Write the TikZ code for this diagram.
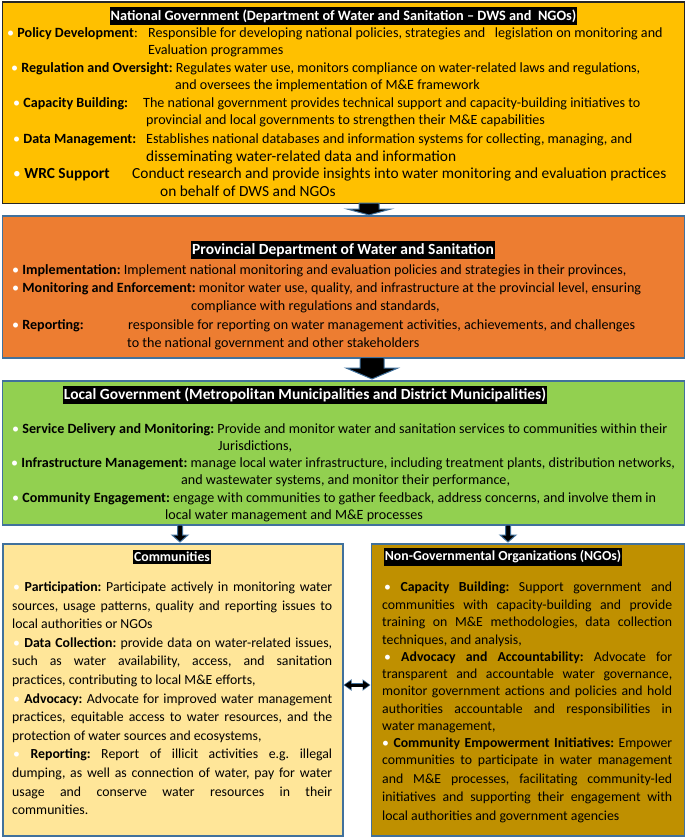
\documentclass[tikz,border=0pt]{standalone}
\usepackage{fontspec}
\setmainfont{Carlito}
\usetikzlibrary{calc,arrows.meta}
\definecolor{natc}{HTML}{FFC000}
\definecolor{provc}{HTML}{ED7D31}
\definecolor{locc}{HTML}{92D050}
\definecolor{commc}{HTML}{FFE699}
\definecolor{ngoc}{HTML}{BF9000}
\definecolor{edgec}{HTML}{41719C}
\frenchspacing
\newcommand\wbul{\textcolor{white}{\textbullet}}
\newcommand\jl[2]{\makebox[#1][s]{#2}}
\tikzset{
  box/.style={draw=edgec, line width=1.5pt, anchor=north west, inner sep=0pt},
  ttl/.style={fill=black, text=white, font=\bfseries\fontsize{13.8}{15}\selectfont, inner xsep=1pt, inner ysep=2.5pt, anchor=center},
  ttlbig/.style={ttl, font=\bfseries\fontsize{15.5}{17}\selectfont},
  ttlmid/.style={ttl, font=\bfseries\fontsize{14.3}{16}\selectfont},
  ln/.style={anchor=base west, inner sep=0pt, font=\fontsize{14.1}{16}\selectfont},
  lnbig/.style={anchor=base west, inner sep=0pt, font=\fontsize{15.4}{17}\selectfont},
  lnb/.style={anchor=base west, inner sep=0pt, font=\fontsize{13.8}{16}\selectfont},
  blk/.style={fill=black, draw=edgec, line width=1pt, line join=miter},
}
\begin{document}
\begin{tikzpicture}[x=1pt,y=-1pt]
\useasboundingbox (0,0) rectangle (685,837);
% ---------- boxes
\node[box, draw=black!85, fill=natc, minimum width=682pt, minimum height=201pt] (nat) at (1.5,1.5) {};
\node[box, fill=provc, minimum width=682pt, minimum height=142pt] (prov) at (1.5,215) {};
\node[box, fill=locc, minimum width=682pt, minimum height=144pt] (loc) at (1.5,380) {};
\node[box, fill=commc, minimum width=340pt, minimum height=292pt] (comm) at (2,543) {};
\node[box, fill=ngoc, minimum width=313pt, minimum height=292pt] (ngo) at (370.5,543) {};

% ---------- block arrows
\coordinate (a1s) at (369,203);
\coordinate (a1e) at (369,215);
\filldraw[blk] ($(a1s)+(-10,0)$) -- ($(a1s)+(10,0)$) -- ($(a1e)+(10,-6)$) -- ($(a1e)+(22,-6)$) -- (a1e) -- ($(a1e)+(-22,-6)$) -- ($(a1e)+(-10,-6)$) -- cycle;
\coordinate (a2s) at (372,357.5);
\coordinate (a2e) at (372,379);
\filldraw[blk] ($(a2s)+(-12,0)$) -- ($(a2s)+(12,0)$) -- ($(a2e)+(12,-11)$) -- ($(a2e)+(26,-11)$) -- (a2e) -- ($(a2e)+(-26,-11)$) -- ($(a2e)+(-12,-11)$) -- cycle;
\coordinate (a3s) at (180,525);
\coordinate (a3e) at (180,542);
\filldraw[blk] ($(a3s)+(-2.5,0)$) -- ($(a3s)+(2.5,0)$) -- ($(a3e)+(2.5,-7)$) -- ($(a3e)+(8,-7)$) -- (a3e) -- ($(a3e)+(-8,-7)$) -- ($(a3e)+(-2.5,-7)$) -- cycle;
\coordinate (a4s) at (508,525);
\coordinate (a4e) at (508,542);
\filldraw[blk] ($(a4s)+(-2.5,0)$) -- ($(a4s)+(2.5,0)$) -- ($(a4e)+(2.5,-7)$) -- ($(a4e)+(8,-7)$) -- (a4e) -- ($(a4e)+(-8,-7)$) -- ($(a4e)+(-2.5,-7)$) -- cycle;
% double arrow
\coordinate (dy) at (0,685);
\draw[edgec, line width=4.6pt, {Triangle[width=11pt,length=8pt]}-{Triangle[width=11pt,length=8pt]}] (comm.east |- dy) -- (ngo.west |- dy);
\draw[black, line width=3pt, {Triangle[width=8pt,length=6.5pt]}-{Triangle[width=8pt,length=6.5pt]}] ($(comm.east |- dy)+(1,0)$) -- ($(ngo.west |- dy)+(-1,0)$);

% ---------- National
\node[ttlmid] (t1) at (343.5,16) {National Government (Department of Water and Sanitation – DWS and \ NGOs)};
\node[ln] (n1l) at (7,37.5) {\wbul\ \textbf{Policy Development}:};
\node[ln] (n1b) at (148,37.5) {Responsible for developing national policies, strategies and \ \ legislation on monitoring and};
\node[ln] (n1c) at (148,54.5) {Evaluation programmes};
\node[ln] (n2l) at (11,72.5) {\wbul\ \textbf{Regulation and Oversight:} Regulates water use, monitors compliance on water-related laws and regulations,};
\node[ln] (n2c) at (175,90) {and oversees the implementation of M\&E framework};
\node[ln] (n3l) at (13,107.5) {\wbul\ \textbf{Capacity Building:}};
\node[ln] (n3b) at (143,107.5) {The national government provides technical support and capacity-building initiatives to};
\node[ln] (n3c) at (146,124.5) {provincial and local governments to strengthen their M\&E capabilities};
\node[ln] (n4l) at (13,143.5) {\wbul\ \textbf{Data Management:}};
\node[ln] (n4b) at (146,143.5) {Establishes national databases and information systems for collecting, managing, and};
\node[lnbig] (n4c) at (146,161) {disseminating water-related data and information};
\node[lnbig] (n5l) at (13,178.5) {\wbul\ \textbf{WRC Support}};
\node[lnbig] (n5b) at (132,178.5) {Conduct research and provide insights into water monitoring and evaluation practices};
\node[lnbig] (n5c) at (160,196.5) {on behalf of DWS and NGOs};

% ---------- Provincial
\node[ttlbig] (t2) at (343,250) {Provincial Department of Water and Sanitation};
\node[ln] (p1) at (12,274) {\wbul\ \textbf{Implementation:} Implement national monitoring and evaluation policies and strategies in their provinces,};
\node[ln] (p2) at (12,292) {\wbul\ \textbf{Monitoring and Enforcement:} monitor water use, quality, and infrastructure at the provincial level, ensuring};
\node[ln] (p2c) at (191,310.5) {compliance with regulations and standards,};
\node[ln] (p3l) at (12,329) {\wbul\ \textbf{Reporting:}};
\node[ln] (p3b) at (128,329) {responsible for reporting on water management activities, achievements, and challenges};
\node[ln] (p3c) at (127,347.5) {to the national government and other stakeholders};

% ---------- Local
\node[ttlbig] (t3) at (305,395) {Local Government (Metropolitan Municipalities and District Municipalities)};
\node[ln] (l1) at (12,433) {\wbul\ \textbf{Service Delivery and Monitoring:} Provide and monitor water and sanitation services to communities within their};
\node[ln] (l1c) at (218,450) {Jurisdictions,};
\node[ln] (l2) at (11,467) {\wbul\ \textbf{Infrastructure Management:} manage local water infrastructure, including treatment plants, distribution networks,};
\node[ln] (l2c) at (181,484) {and wastewater systems, and monitor their performance,};
\node[ln] (l3) at (12,502) {\wbul\ \textbf{Community Engagement:} engage with communities to gather feedback, address concerns, and involve them in};
\node[ln] (l3c) at (165,519) {local water management and M\&E processes};

% ---------- Communities
\node[ttl] (t4) at (172,557) {Communities};
\node[lnb] (c1) at (13,591.5) {\jl{319pt}{\wbul\ \textbf{Participation:} Participate actively in monitoring water}};
\node[lnb] (c2) at (12,610.1) {\jl{320pt}{sources, usage patterns, quality and reporting issues to}};
\node[lnb] (c3) at (12,628.7) {local authorities or NGOs};
\node[lnb] (c4) at (13,647.2) {\jl{319pt}{\wbul\ \textbf{Data Collection:} provide data on water-related issues,}};
\node[lnb] (c5) at (12,665.8) {\jl{320pt}{such as water availability, access, and sanitation}};
\node[lnb] (c6) at (12,684.4) {practices, contributing to local M\&E efforts,};
\node[lnb] (c7) at (13,703) {\jl{319pt}{\wbul\ \textbf{Advocacy:} Advocate for improved water management}};
\node[lnb] (c8) at (12,721.6) {\jl{320pt}{practices, equitable access to water resources, and the}};
\node[lnb] (c9) at (12,740.2) {protection of water sources and ecosystems,};
\node[lnb] (c10) at (13,758.8) {\jl{319pt}{\wbul\ \textbf{Reporting:} Report of illicit activities e.g. illegal}};
\node[lnb] (c11) at (12,777.4) {\jl{320pt}{dumping, as well as connection of water, pay for water}};
\node[lnb] (c12) at (12,796) {\jl{320pt}{usage and conserve water resources in their}};
\node[lnb] (c13) at (12,814.5) {communities.};

% ---------- NGOs
\node[ttl] (t5) at (503,557) {Non-Governmental Organizations (NGOs)};
\node[lnb] (g1) at (384,591.5) {\jl{288pt}{\wbul\ \textbf{Capacity Building:} Support government and}};
\node[lnb] (g2) at (382,609) {\jl{290pt}{communities with capacity-building and provide}};
\node[lnb] (g3) at (382,626.5) {\jl{290pt}{training on M\&E methodologies, data collection}};
\node[lnb] (g4) at (382,644) {techniques, and analysis,};
\node[lnb] (g5) at (384,661) {\jl{288pt}{\wbul\ \textbf{Advocacy and Accountability:} Advocate for}};
\node[lnb] (g6) at (382,678) {\jl{290pt}{transparent and accountable water governance,}};
\node[lnb] (g7) at (382,695.5) {\jl{290pt}{monitor government actions and policies and hold}};
\node[lnb] (g8) at (382,713) {\jl{290pt}{authorities accountable and responsibilities in}};
\node[lnb] (g9) at (382,730) {water management,};
\node[lnb] (g10) at (382,747) {\jl{290pt}{\wbul\ \textbf{Community Empowerment Initiatives:} Empower}};
\node[lnb] (g11) at (382,764) {\jl{290pt}{communities to participate in water management}};
\node[lnb] (g12) at (382,783) {\jl{290pt}{and M\&E processes, facilitating community-led}};
\node[lnb] (g13) at (382,801.5) {\jl{290pt}{initiatives and supporting their engagement with}};
\node[lnb] (g14) at (382,820) {local authorities and government agencies};
\end{tikzpicture}
\end{document}
